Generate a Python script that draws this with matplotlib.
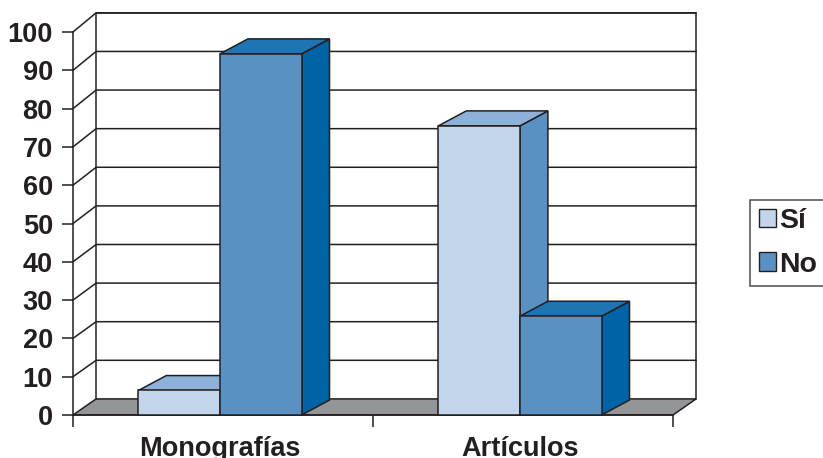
import matplotlib.pyplot as plt
from matplotlib.patches import Polygon, Patch

categories = ['Monografías', 'Artículos']
series = ['Sí', 'No']
si_values = [6.4, 75.5]
no_values = [94.3, 25.8]
yticks = list(range(0, 101, 10))

ink = '#231f20'
# front / top / side colours for each series
si_faces = ('#c2d5ea', '#8db1d9', '#5b90c3')
no_faces = ('#5b90c3', '#1f74b4', '#0063a5')
floor_color = '#939598'

plt.rcParams['font.family'] = ['Liberation Sans', 'DejaVu Sans']
plt.rcParams['font.weight'] = 'bold'

fig = plt.figure(figsize=(8.23, 4.58), dpi=100)
ax = fig.add_axes([73 / 823, 43 / 458, 600 / 823, 383 / 458])
ax.set_xlim(0, 2)
ax.set_ylim(0, 100)
ax.patch.set_visible(False)

# depth of the walls/floor, and of the bars
wdx = 0.077


def back(v):
    return v * 1.008 + 4.2


bdx, bdy = 0.093, 3.9
w = 0.272
lw = 1.1

# floor
ax.add_patch(Polygon([(0, 0), (2, 0), (2 + wdx, back(0)), (wdx, back(0))],
                     closed=True, facecolor=floor_color, edgecolor=ink,
                     lw=lw, clip_on=False, zorder=1))

# back wall outline and gridlines
ax.plot([wdx, wdx, 2 + wdx, 2 + wdx], [back(0), back(100), back(100), back(0)],
        color=ink, lw=lw, clip_on=False, zorder=1.5)
for v in yticks[1:]:
    ax.plot([0, wdx, 2 + wdx], [v, back(v), back(v)],
            color=ink, lw=lw, clip_on=False, zorder=1.5)


def bar3d(x0, h, faces, z):
    front = [(x0, 0), (x0 + w, 0), (x0 + w, h), (x0, h)]
    top = [(x0, h), (x0 + w, h), (x0 + w + bdx, h + bdy), (x0 + bdx, h + bdy)]
    side = [(x0 + w, 0), (x0 + w + bdx, bdy), (x0 + w + bdx, h + bdy), (x0 + w, h)]
    for pts, col in zip((side, top, front), (faces[2], faces[1], faces[0])):
        ax.add_patch(Polygon(pts, closed=True, facecolor=col, edgecolor=ink,
                             lw=lw, joinstyle='miter', clip_on=False, zorder=z))


centers = [i + 0.49 for i in range(len(categories))]
for i, c in enumerate(centers):
    bar3d(c - w, si_values[i], si_faces, 3 + i * 2)
    bar3d(c, no_values[i], no_faces, 4 + i * 2)

# axes
for s in ('top', 'right'):
    ax.spines[s].set_visible(False)
for s in ('left', 'bottom'):
    ax.spines[s].set_color(ink)
    ax.spines[s].set_linewidth(lw)

ax.set_yticks(yticks)
ax.tick_params(axis='y', length=8, width=lw, pad=6.5, labelsize=19.5,
               colors=ink)
ax.set_xticks([0, 1, 2])
ax.set_xticklabels([])
ax.tick_params(axis='x', which='major', length=8.6, width=lw, color=ink)
ax.set_xticks(centers, minor=True)
ax.set_xticklabels(categories, minor=True)
ax.tick_params(axis='x', which='minor', length=0, pad=15, labelsize=19.5,
               labelcolor=ink)

handles = [Patch(facecolor=si_faces[0], edgecolor=ink, lw=1),
           Patch(facecolor=no_faces[0], edgecolor=ink, lw=1)]
leg = fig.legend(handles, series, loc='center left',
                 bbox_to_anchor=(750 / 823, 1 - 243 / 458),
                 fontsize=20.5, frameon=True, fancybox=False,
                 edgecolor=ink, handlelength=0.6, handleheight=0.6,
                 handletextpad=0.12, labelspacing=0.6, borderpad=0.3,
                 borderaxespad=0)
leg.get_frame().set_linewidth(lw)
for t in leg.get_texts():
    t.set_color(ink)

fig.savefig('out.png', dpi=100)
